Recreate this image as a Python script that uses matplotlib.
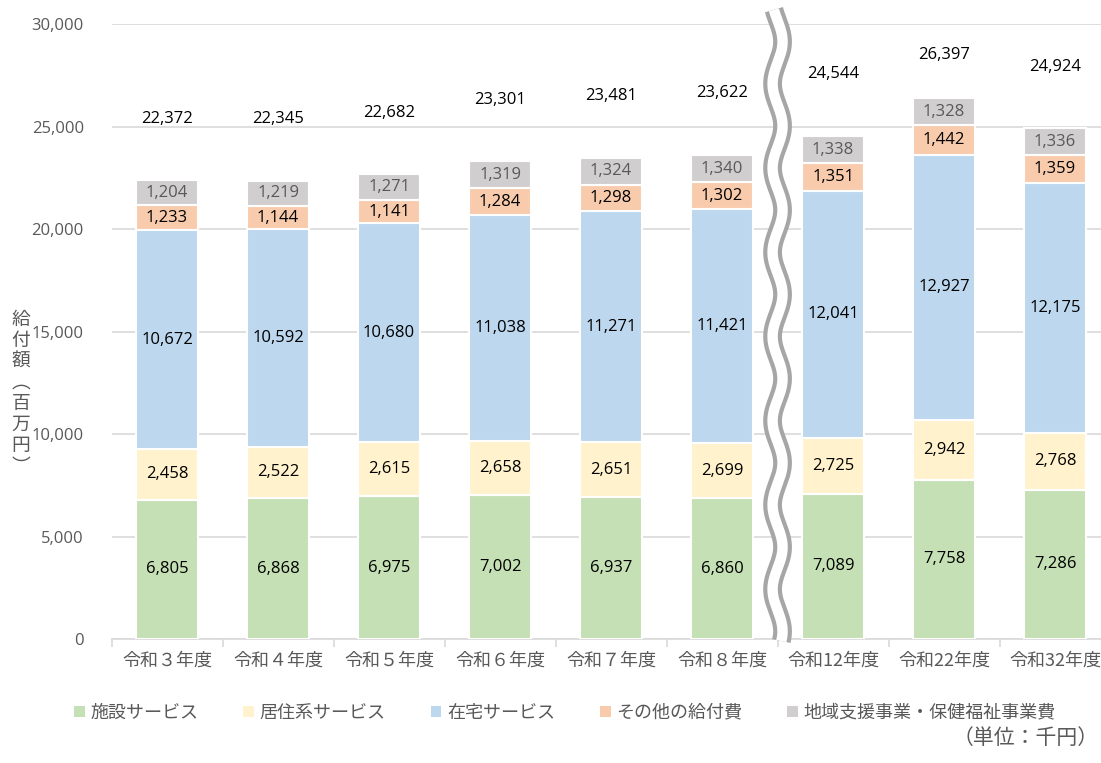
import numpy as np
import matplotlib.pyplot as plt
from matplotlib.patches import Patch

plt.rcParams['font.family'] = ['Noto Sans CJK JP', 'DejaVu Sans']

# data (百万円)
years = ['令和３年度', '令和４年度', '令和５年度', '令和６年度', '令和７年度',
         '令和８年度', '令和12年度', '令和22年度', '令和32年度']
shisetsu = [6805, 6868, 6975, 7002, 6937, 6860, 7089, 7758, 7286]
kyoju = [2458, 2522, 2615, 2658, 2651, 2699, 2725, 2942, 2768]
zaitaku = [10672, 10592, 10680, 11038, 11271, 11421, 12041, 12927, 12175]
sonota = [1233, 1144, 1141, 1284, 1298, 1302, 1351, 1442, 1359]
chiiki = [1204, 1219, 1271, 1319, 1324, 1340, 1338, 1328, 1336]
totals = [22372, 22345, 22682, 23301, 23481, 23622, 24544, 26397, 24924]

series = [shisetsu, kyoju, zaitaku, sonota, chiiki]
names = ['施設サービス', '居住系サービス', '在宅サービス', 'その他の給付費', '地域支援事業・保健福祉事業費']
colors = ['#C5E0B4', '#FFF2CC', '#BDD7EE', '#F8CBAD', '#D0CECE']
txt_colors = ['#000000', '#000000', '#000000', '#000000', '#595959']

numfont = ['Open Sans', 'DejaVu Sans']

fig = plt.figure(figsize=(11.01, 7.63), dpi=100)
ax = fig.add_axes([0.1013, 0.1625, 0.9074, 0.806])

x = np.arange(len(years))
bottom = np.zeros(len(years))
for vals, c, tc in zip(series, colors, txt_colors):
    ax.bar(x, vals, 0.56, bottom=bottom, color=c, edgecolor='white', linewidth=1.5, zorder=3)
    for xi, b, v in zip(x, bottom, vals):
        ax.text(xi, b + v / 2, f'{v:,}', ha='center', va='center', fontsize=12,
                color=tc, family=numfont, zorder=4)
    bottom += np.array(vals)

# totals above bars
for xi, t in zip(x, totals):
    ax.text(xi, min(t + 3000, 28500), f'{t:,}', ha='center', va='center', fontsize=12,
            color='#000000', family=numfont)

ax.set_xlim(-0.5, len(years) - 0.5)
ax.set_ylim(0, 30000)
ax.set_yticks(np.arange(0, 30001, 5000))
ax.set_yticklabels([f'{v:,}' for v in range(0, 30001, 5000)], fontsize=12,
                   color='#595959', family=numfont)
ax.tick_params(axis='y', length=0, pad=20)
ax.grid(axis='y', color='#D9D9D9', linewidth=1.2, zorder=0)

ax.set_xticks(x)
ax.set_xticklabels(years, fontsize=13, color='#595959')
ax.set_xticks(np.arange(-0.5, len(years), 1), minor=True)
ax.tick_params(axis='x', which='major', length=0, pad=9)
ax.tick_params(axis='x', which='minor', length=6, color='#D9D9D9', width=1.2)

for s in ['top', 'right', 'left']:
    ax.spines[s].set_visible(False)
ax.spines['bottom'].set_color('#D9D9D9')
ax.spines['bottom'].set_linewidth(1.2)

# wavy break mark between 令和8 and 令和12
yy = np.linspace(-100, 30700, 600)
xx = 5.5 + 0.045 * np.sin(yy / 30000 * 2 * np.pi * 7.3 + 1.0)
ax.plot(xx, yy, color='#A6A6A6', linewidth=13.5, clip_on=False, zorder=5, solid_capstyle='butt')
ax.plot(xx, yy, color='white', linewidth=7.5, clip_on=False, zorder=6, solid_capstyle='butt')

# y label written vertically
fig.text(0.019, 0.485, '\n'.join('給付額︵百万円︶'), ha='center', va='center',
         fontsize=13.5, color='#595959', linespacing=1.0)

handles = [Patch(facecolor=c, edgecolor='none') for c in colors]
fig.legend(handles, names, loc='center', bbox_to_anchor=(0.513, 0.066), ncol=5,
           frameon=False, fontsize=13, handlelength=0.6, handleheight=0.6,
           handletextpad=0.3, columnspacing=2.5, labelcolor='#595959')

fig.text(0.998, 0.018, '（単位：千円）', fontsize=15, color='#595959', ha='right', va='bottom')

fig.savefig('out.png', dpi=100)
